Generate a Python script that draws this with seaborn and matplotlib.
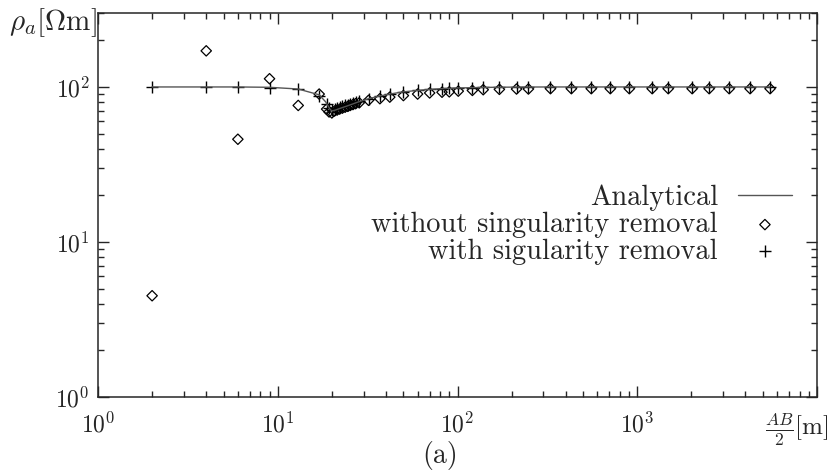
import numpy as np
import pandas as pd
import seaborn as sns
import matplotlib.pyplot as plt
from matplotlib.ticker import FixedLocator, FixedFormatter, NullFormatter, LogLocator

# AB/2 [m] and apparent resistivity [Ohm m]
x_analytical = [2, 4, 6, 9, 13, 17, 18.5, 19.5, 20, 21, 22, 24, 26, 28, 32, 37, 42, 50,
                60, 70, 82, 90, 101, 121, 139, 171, 213, 248, 329, 430, 555, 708, 903,
                1211, 1487, 2021, 2512, 3246, 4243, 5483]
rho_analytical = [100, 100, 100, 99.5, 97, 89, 80, 72, 70, 71, 72.5, 75, 77.5, 80, 84, 87.5, 90, 93,
                  95, 96.5, 97.5, 98, 98.5, 99, 99.3, 99.6, 99.8, 99.9, 100, 100, 100, 100, 100,
                  100, 100, 100, 100, 100, 100, 100]

x_points = [2, 4, 6, 9, 13, 17, 18.7, 19.3, 20, 20.7, 21.4, 22.1, 22.9, 23.7, 24.5, 25.3,
            26.2, 27.1, 28.4, 32, 37, 42, 50, 60, 70, 82, 90, 101, 121, 139, 171, 213,
            248, 329, 430, 555, 708, 903, 1211, 1487, 2021, 2512, 3246, 4243, 5483]
rho_without = [4.5, 171, 46, 113, 76, 90, 72, 69, 68, 70, 71, 72, 73, 74, 75, 76,
               77, 78, 79, 82, 84, 86, 88, 90, 91.5, 92.5, 93, 94, 95, 96, 96.5, 97,
               97, 97.5, 97.5, 97.5, 97.5, 97.5, 97.5, 97.5, 97.5, 97.5, 97.5, 97.5, 97.5]
rho_with = [100, 100, 100, 98, 97, 88, 78, 73, 71, 72, 73, 74, 75, 76, 77, 78,
            79, 80, 81, 84, 87.5, 90, 93, 95, 96.5, 97.5, 98, 98.5, 99, 99.3, 99.6, 99.8,
            99.9, 100, 100, 100, 100, 100, 100, 100, 100, 100, 100, 100, 100]

df_an = pd.DataFrame({"x": x_analytical, "rho": rho_analytical})
df_pts = pd.DataFrame({"x": x_points, "without": rho_without, "with": rho_with})

sns.set_theme(style="ticks")
plt.rcParams["font.family"] = ["serif"]
plt.rcParams["font.serif"] = ["cmr10", "DejaVu Serif"]
plt.rcParams["mathtext.fontset"] = "cm"
plt.rcParams["axes.unicode_minus"] = False
plt.rcParams["axes.formatter.use_mathtext"] = True

fig = plt.figure(figsize=(8.3, 4.74), dpi=100)
ax = fig.add_axes([98 / 830, 1 - 397 / 474, (817 - 98) / 830, (397 - 13) / 474])

sns.lineplot(data=df_an, x="x", y="rho", ax=ax, color="#555555", linewidth=1.0,
             label="Analytical", sort=True)
sns.scatterplot(data=df_pts, x="x", y="without", ax=ax, marker="D", s=28,
                facecolor="none", edgecolor="black", linewidth=0.9,
                label="without singularity removal")
sns.scatterplot(data=df_pts, x="x", y="with", ax=ax, marker="+", s=70,
                color="black", linewidth=1.0, label="with sigularity removal")

ax.set_xscale("log")
ax.set_yscale("log")
ax.set_xlim(1, 1e4)
ax.set_ylim(1, 300)

ax.xaxis.set_major_locator(FixedLocator([1, 10, 100, 1000, 10000]))
ax.xaxis.set_major_formatter(FixedFormatter([r"$10^0$", r"$10^1$", r"$10^2$", r"$10^3$", ""]))
ax.yaxis.set_major_locator(FixedLocator([1, 10, 100]))
ax.yaxis.set_major_formatter(FixedFormatter([r"$10^0$", r"$10^1$", r"$10^2$"]))
ax.xaxis.set_minor_locator(LogLocator(base=10, subs=np.arange(2, 10), numticks=20))
ax.yaxis.set_minor_locator(LogLocator(base=10, subs=np.arange(2, 10), numticks=20))
ax.xaxis.set_minor_formatter(NullFormatter())
ax.yaxis.set_minor_formatter(NullFormatter())

ax.tick_params(which="both", direction="in", top=True, right=True, labelsize=17, width=1.0)
ax.tick_params(which="major", length=8)
ax.tick_params(axis="x", which="major", pad=11)
ax.tick_params(axis="y", which="major", pad=6)
ax.tick_params(which="minor", length=4)
for s in ax.spines.values():
    s.set_linewidth(1.1)

ax.set_xlabel("")
ax.set_ylabel("")

leg = ax.legend(loc="upper right", bbox_to_anchor=(0.985, 0.59), frameon=False,
                markerfirst=False, fontsize=20.5, handlelength=1.9, handletextpad=0.7,
                labelspacing=0.02, borderpad=0)
for col in leg._legend_handle_box.get_children():
    col.align = "right"

fig.text(97 / 830, 1 - 23 / 474, r"$\rho_a[\Omega\mathrm{m}]$", ha="right", va="center", fontsize=21)
fig.text(828 / 830, 1 - 430 / 474, r"$\frac{AB}{2}[\mathrm{m}]$", ha="right", va="center", fontsize=18)
fig.text(440 / 830, 1 - 455 / 474, "(a)", ha="center", va="center", fontsize=20)

fig.savefig("out.png", dpi=100)
